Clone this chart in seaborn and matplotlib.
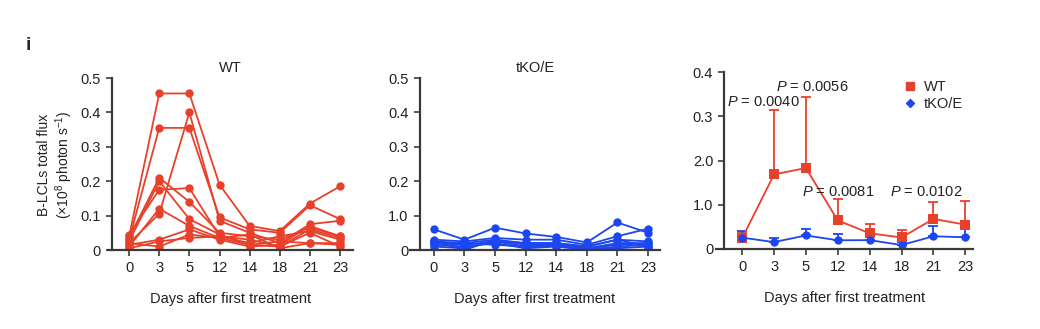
import numpy as np
import pandas as pd
import matplotlib
matplotlib.use("Agg")
import matplotlib.pyplot as plt
import seaborn as sns
from matplotlib.lines import Line2D

# ---------------- data ----------------
days = ["0", "3", "5", "12", "14", "18", "21", "23"]

wt_m1 = [0.040, 0.455, 0.455, 0.190, 0.070, 0.055, 0.135, 0.185]
wt_m2 = [0.030, 0.355, 0.355, 0.095, 0.060, 0.050, 0.130, 0.090]
wt_m3 = [0.020, 0.105, 0.400, 0.085, 0.050, 0.020, 0.075, 0.085]
wt_m4 = [0.035, 0.210, 0.140, 0.050, 0.040, 0.030, 0.065, 0.040]
wt_m5 = [0.025, 0.200, 0.090, 0.045, 0.015, 0.010, 0.060, 0.035]
wt_m6 = [0.045, 0.175, 0.180, 0.040, 0.020, 0.040, 0.055, 0.030]
wt_m7 = [0.010, 0.120, 0.070, 0.035, 0.045, 0.005, 0.020, 0.015]
wt_m8 = [0.015, 0.030, 0.060, 0.030, 0.010, 0.015, 0.070, 0.040]
wt_m9 = [0.005, 0.025, 0.035, 0.040, 0.030, 0.010, 0.050, 0.010]
wt_m10 = [0.020, 0.010, 0.045, 0.035, 0.015, 0.025, 0.020, 0.020]
wt_mice = [wt_m1, wt_m2, wt_m3, wt_m4, wt_m5, wt_m6, wt_m7, wt_m8, wt_m9, wt_m10]

ko_m1 = [0.060, 0.030, 0.065, 0.048, 0.038, 0.022, 0.080, 0.050]
ko_m2 = [0.030, 0.025, 0.035, 0.030, 0.030, 0.015, 0.040, 0.062]
ko_m3 = [0.025, 0.020, 0.030, 0.020, 0.020, 0.010, 0.030, 0.025]
ko_m4 = [0.020, 0.015, 0.025, 0.010, 0.015, 0.005, 0.020, 0.020]
ko_m5 = [0.015, 0.010, 0.020, 0.005, 0.010, 0.000, 0.010, 0.015]
ko_m6 = [0.010, 0.005, 0.025, 0.020, 0.020, 0.010, 0.030, 0.010]
ko_m7 = [0.025, 0.000, 0.030, 0.015, 0.015, 0.005, 0.015, 0.020]
ko_m8 = [0.020, 0.020, 0.015, 0.010, 0.012, 0.005, 0.005, 0.010]
ko_mice = [ko_m1, ko_m2, ko_m3, ko_m4, ko_m5, ko_m6, ko_m7, ko_m8]

p_labels = ["0.0040", "0.0056", "0.0081", "0.0102"]

yticks_left = [0, 0.1, 0.2, 0.3, 0.4, 0.5]
yticklabels_left = ["0", "0.1", "0.2", "0.3", "0.4", "0.5"]
yticklabels_mid = ["0", "1.0", "0.2", "0.3", "0.4", "0.5"]
yticks_right = [0, 0.1, 0.2, 0.3, 0.4]
yticklabels_right = ["0", "1.0", "2.0", "0.3", "0.4"]

RED = "#E8412B"
BLUE = "#1C46F0"
SPINE = "#3a3a3a"
TXT = "#222222"
FS = 10.5


def to_long(mice, group):
    rows = []
    for m, vals in enumerate(mice):
        for i, v in enumerate(vals):
            rows.append({"mouse": m, "pos": i, "day": days[i], "flux": v, "group": group})
    return pd.DataFrame(rows)


wt_df = to_long(wt_mice, "WT")
ko_df = to_long(ko_mice, "tKO/E")

# ---------------- style ----------------
sns.set_theme(style="ticks")
plt.rcParams["font.family"] = ["Liberation Sans", "DejaVu Sans"]
plt.rcParams["mathtext.fontset"] = "custom"
plt.rcParams["mathtext.it"] = "Liberation Sans:italic"
plt.rcParams["mathtext.rm"] = "Liberation Sans"

fig = plt.figure(figsize=(10.4, 3.29), dpi=100)
W, H = 1040, 329


def add_ax(x0, x1, ytop, ybot):
    return fig.add_axes([x0 / W, 1 - ybot / H, (x1 - x0) / W, (ybot - ytop) / H])


ax1 = add_ax(108, 353, 78, 250)
ax2 = add_ax(410, 660, 78, 250)
ax3 = add_ax(716, 973, 72, 249)


def style_axis(ax, xlim, spine_x, ylim, yticks, ylabels):
    ax.set_xlim(*xlim)
    ax.set_ylim(*ylim)
    ax.set_xticks(range(len(days)))
    ax.set_xticklabels(days)
    ax.set_yticks(yticks)
    ax.set_yticklabels(ylabels)
    for s in ["top", "right"]:
        ax.spines[s].set_visible(False)
    for s in ["left", "bottom"]:
        ax.spines[s].set_color(SPINE)
        ax.spines[s].set_linewidth(1.6)
    ax.spines["left"].set_position(("data", spine_x))
    ax.tick_params(axis="both", direction="out", length=4, width=1.2,
                   color=SPINE, labelsize=FS, labelcolor=TXT, pad=4)
    ax.set_xlabel("Days after first treatment", fontsize=FS, color=TXT, labelpad=12)
    ax.set_ylabel("")
    ax.grid(False)


# Panel 1: WT individual mice
sns.lineplot(data=wt_df, x="pos", y="flux", units="mouse", estimator=None,
             color=RED, marker="o", markersize=6, markeredgewidth=0,
             linewidth=1.3, ax=ax1, legend=False)
style_axis(ax1, (-0.70, 7.43), -0.56, (0, 0.5), yticks_left, yticklabels_left)
ax1.set_title("WT", fontsize=FS, color=TXT, pad=4)
fig.text(44 / W, 1 - 165 / H, "B-LCLs total flux", rotation=90, fontsize=10,
         color=TXT, ha="center", va="center")
fig.text(64 / W, 1 - 165 / H, "(×10$^{8}$ photon s$^{-1}$)", rotation=90, fontsize=10,
         color=TXT, ha="center", va="center")

# Panel 2: tKO/E individual mice
sns.lineplot(data=ko_df, x="pos", y="flux", units="mouse", estimator=None,
             color=BLUE, marker="o", markersize=6, markeredgewidth=0,
             linewidth=1.3, ax=ax2, legend=False)
style_axis(ax2, (-0.78, 7.39), -0.46, (0, 0.5), yticks_left, yticklabels_mid)
ax2.set_title("tKO/E", fontsize=FS, color=TXT, pad=4)

# Panel 3: mean + SD (upper only)
for df, col, mk in [(wt_df, RED, "s"), (ko_df, BLUE, "o")]:
    stats = df.groupby("pos")["flux"].agg(["mean", "std"]).reset_index()
    ax3.errorbar(stats["pos"], stats["mean"],
                 yerr=[np.zeros(len(stats)), stats["std"]],
                 fmt="none", ecolor=col, elinewidth=1.3, capsize=3.5, capthick=1.3,
                 zorder=1)
    sns.lineplot(data=df, x="pos", y="flux", errorbar=None, color=col,
                 marker=mk, markersize=7 if mk == "s" else 6, markeredgewidth=0,
                 linewidth=1.3, ax=ax3, legend=False, zorder=2)
style_axis(ax3, (-0.82, 7.24), -0.56, (0, 0.4), yticks_right, yticklabels_right)

p_pos = [(0.66, 0.332), (2.19, 0.366), (3.0, 0.129), (5.77, 0.129)]
for (px, py), lab in zip(p_pos, p_labels):
    ax3.text(px, py, "$P$ = " + lab, ha="center", va="center", fontsize=FS, color=TXT)

handles = [Line2D([], [], color=RED, marker="s", linestyle="none", markersize=6),
           Line2D([], [], color=BLUE, marker="D", linestyle="none", markersize=4.5)]
ax3.legend(handles, ["WT", "tKO/E"], loc="upper left", bbox_to_anchor=(0.70, 0.985),
           frameon=False, fontsize=FS, handletextpad=0.3, labelspacing=0.15,
           handlelength=1.2, borderaxespad=0)

fig.text(28 / W, 1 - 45 / H, "i", fontsize=14, fontweight="bold", ha="center", va="center")

fig.savefig("out.png", dpi=100, facecolor="white")
